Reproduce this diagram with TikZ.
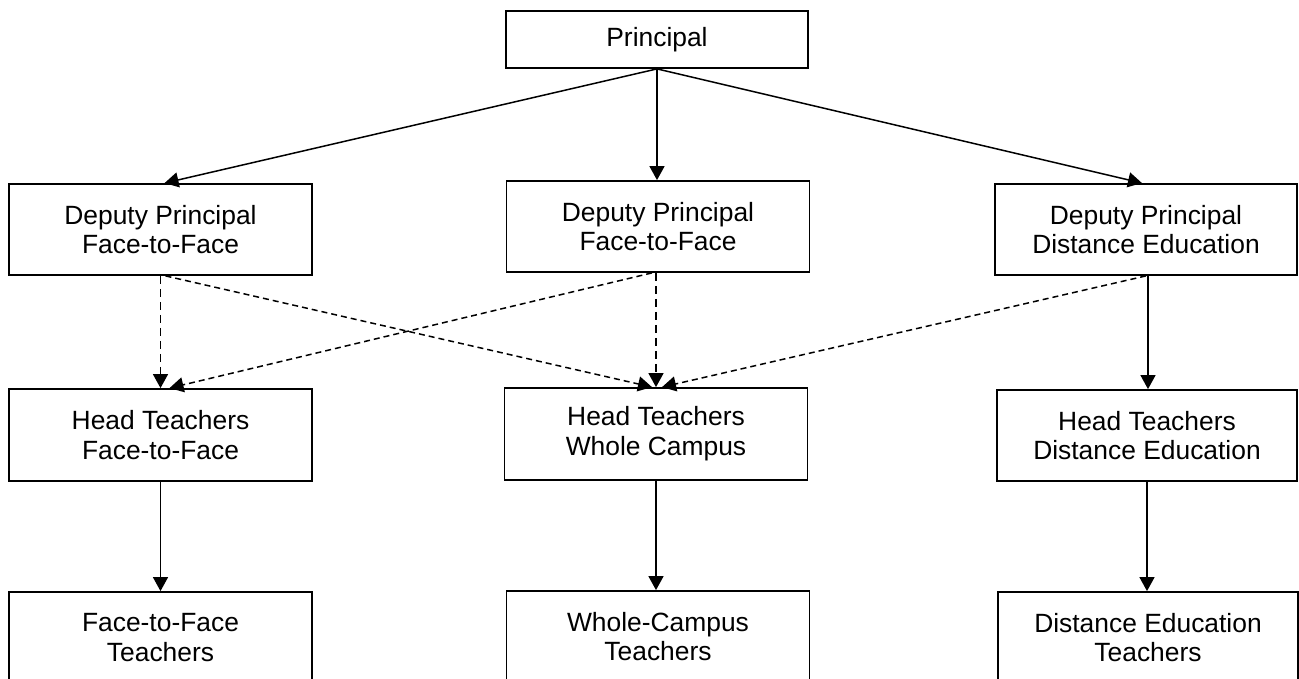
\documentclass[tikz,border=0pt]{standalone}
\usepackage{fontspec}
\setmainfont{Liberation Sans}
\usetikzlibrary{arrows.meta}
\begin{document}
\begin{tikzpicture}[x=1pt,y=-1pt,
  box/.style={draw,line width=1.8pt,minimum width=303pt,minimum height=91pt,inner sep=0pt,align=center,
    font=\fontsize{26.4}{29.8}\selectfont},
  arr/.style={line width=1.5pt,-{Triangle[length=14pt,width=15pt]}},
  darr/.style={arr,dash pattern=on 8pt off 5pt},
  sarr/.style={arr,dash pattern=on 6pt off 4pt}]
\useasboundingbox (0,0) rectangle (1299,679);
\node[box,minimum width=302pt,minimum height=57pt] (P) at (657,39.5) {Principal};
\node[box] (DL) at (160.5,229.5) {Deputy Principal\\Face-to-Face};
\node[box] (DM) at (658,226.5) {Deputy Principal\\Face-to-Face};
\node[box,minimum width=302pt] (DR) at (1146,229.5) {Deputy Principal\\Distance Education};
\node[box,minimum height=92pt] (HL) at (160.5,435) {Head Teachers\\Face-to-Face};
\node[box,minimum height=92pt] (HM) at (656,434) {Head Teachers\\Whole Campus};
\node[box,minimum width=300pt] (HR) at (1147,435.5) {Head Teachers\\Distance Education};
\node[box] (BL) at (160.5,637.5) {Face-to-Face\\Teachers};
\node[box] (BM) at (658,636.5) {Whole-Campus\\Teachers};
\node[box,minimum width=300pt] (BR) at (1148,637.5) {Distance Education\\Teachers};
% principal to deputies
\draw[arr] (P.south) -- ([xshift=4pt]DL.north);
\draw[arr] (P.south) -- (P.south |- DM.north);
\draw[arr] (P.south) -- ([xshift=-4pt]DR.north);
% deputies to head teachers
\draw[darr] (DL.south) -- (HL.north);
\draw[sarr] ([xshift=5pt]DL.south) -- ([xshift=-4pt]HM.north);
\draw[sarr] ([xshift=-6pt]DM.south) -- ([xshift=9pt]HL.north);
\draw[darr] ([xshift=-2pt]DM.south) -- (HM.north);
\draw[sarr] (DR.south) -- ([xshift=6pt]HM.north);
\draw[arr] ([xshift=2pt]DR.south) -- ([xshift=1pt]HR.north);
% head teachers to teachers
\draw[arr] (HL.south) -- (BL.north);
\draw[arr] (HM.south) -- (HM.south |- BM.north);
\draw[arr] (HR.south) -- (HR.south |- BR.north);
\end{tikzpicture}
\end{document}
